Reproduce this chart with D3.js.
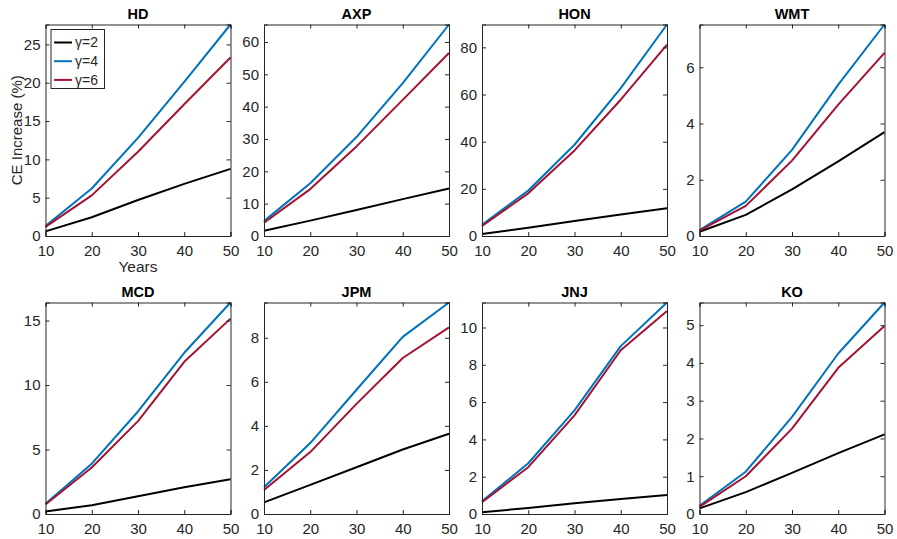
<!DOCTYPE html>
<html>
<head>
<meta charset="utf-8">
<script src="https://cdn.jsdelivr.net/npm/d3@7/dist/d3.min.js"></script>
<style>
  html, body { margin: 0; padding: 0; background: #fff; }
  svg { display: block; font-family: "Liberation Sans", Arial, Helvetica, sans-serif; }
</style>
</head>
<body>
<svg id="chart" width="897" height="539"></svg>
<script>
const years = [10, 20, 30, 40, 50];
const tickYears = [10, 20, 30, 40, 50];
const tickers = ["HD", "AXP", "HON", "WMT", "MCD", "JPM", "JNJ", "KO"];
const seriesNames = ["\u03B3=2", "\u03B3=4", "\u03B3=6"];
const seriesColors = ["#000000", "#0072BD", "#A2142F"];

// values per ticker, per series (gamma=2, gamma=4, gamma=6)
const gamma2 = [
  [0.6, 2.45, 4.7, 6.8, 8.76],    // HD
  [1.65, 4.75, 8.06, 11.4, 14.7], // AXP
  [0.85, 3.5, 6.4, 9.1, 11.8],    // HON
  [0.15, 0.75, 1.66, 2.65, 3.69], // WMT
  [0.2, 0.68, 1.38, 2.08, 2.7],   // MCD
  [0.53, 1.32, 2.12, 2.93, 3.64], // JPM
  [0.1, 0.32, 0.57, 0.8, 1.02],   // JNJ
  [0.15, 0.58, 1.09, 1.61, 2.11]  // KO
];
const gamma4 = [
  [1.3, 6.2, 12.8, 20.1, 27.6],
  [4.6, 16.3, 30.6, 47.3, 65.4],
  [4.7, 19.3, 38.7, 62.7, 89.7],
  [0.21, 1.22, 3.06, 5.38, 7.52],
  [0.8, 3.9, 7.95, 12.5, 16.4],
  [1.21, 3.22, 5.64, 8.04, 9.6],
  [0.68, 2.72, 5.56, 9.0, 11.34],
  [0.22, 1.12, 2.57, 4.25, 5.6]
];
const gamma6 = [
  [1.2, 5.3, 11.0, 17.2, 23.3],
  [4.1, 14.5, 27.7, 42.1, 56.6],
  [4.25, 18.1, 36.3, 57.8, 81.2],
  [0.19, 1.07, 2.68, 4.67, 6.51],
  [0.73, 3.6, 7.2, 11.8, 15.15],
  [1.09, 2.81, 5.0, 7.08, 8.47],
  [0.63, 2.51, 5.29, 8.78, 10.88],
  [0.19, 1.0, 2.26, 3.87, 4.98]
];
const yTickStep = [5, 10, 20, 2, 5, 2, 2, 1];

const svg = d3.select("#chart");
const ink = "#262626";
const colLeft = [45.5, 264, 482, 699.5];
const rowTop = [24.5, 302.5];
const pw = 185, ph = 211.5;
const fontTick = 15;

tickers.forEach((name, i) => {
  const col = i % 4, row = Math.floor(i / 4);
  const x0 = colLeft[col], y0 = rowTop[row];
  const all = [gamma2[i], gamma4[i], gamma6[i]];
  const ymax = d3.max(all.flat());
  const x = d3.scaleLinear().domain([10, 50]).range([0, pw]);
  const y = d3.scaleLinear().domain([0, ymax]).range([ph, 0]);
  const yt = d3.range(0, ymax + 1e-9, yTickStep[i]);

  const g = svg.append("g").attr("transform", `translate(${x0},${y0})`);

  const cid = "clip" + i;
  g.append("clipPath").attr("id", cid).append("rect")
    .attr("x", -1).attr("y", -1).attr("width", pw + 2).attr("height", ph + 2);

  const line = d3.line().x((d, k) => x(years[k])).y(d => y(d));
  [0, 1, 2].forEach(s => {
    g.append("path").datum(all[s])
      .attr("d", line)
      .attr("fill", "none")
      .attr("stroke", seriesColors[s])
      .attr("stroke-width", 2)
      .attr("stroke-linejoin", "round")
      .attr("clip-path", `url(#${cid})`);
  });

  const xb = g.append("g").attr("transform", `translate(0,${ph})`)
    .call(d3.axisBottom(x).tickValues(tickYears).tickSize(-4).tickPadding(9.5).tickFormat(d3.format("d")));
  const xt = g.append("g")
    .call(d3.axisTop(x).tickValues(tickYears).tickSize(-4).tickFormat(""));
  const yl = g.append("g")
    .call(d3.axisLeft(y).tickValues(yt).tickSize(-4).tickPadding(5).tickFormat(d3.format("d")));
  const yr = g.append("g").attr("transform", `translate(${pw},0)`)
    .call(d3.axisRight(y).tickValues(yt).tickSize(-4).tickFormat(""));
  [xb, xt, yl, yr].forEach(a => {
    a.select(".domain").attr("stroke", ink).attr("stroke-width", 1);
    a.selectAll(".tick line").attr("stroke", ink).attr("stroke-width", 1);
    a.selectAll(".tick text").attr("fill", ink).attr("font-size", fontTick)
      .attr("font-family", "'Liberation Sans', Arial, sans-serif");
  });
  xb.selectAll(".tick text").attr("dy", "0.71em");

  g.append("text").attr("x", pw / 2).attr("y", -5.5)
    .attr("text-anchor", "middle").attr("font-weight", "bold")
    .attr("font-size", 14.5).attr("fill", "#000").text(name);

  if (i === 0) {
    g.append("text").attr("x", pw / 2).attr("y", ph + 36)
      .attr("text-anchor", "middle").attr("font-size", 15.5).attr("fill", ink).text("Years");
    g.append("text")
      .attr("transform", `translate(-23.5,${ph / 2}) rotate(-90)`)
      .attr("text-anchor", "middle").attr("font-size", fontTick).attr("fill", ink)
      .text("CE Increase (%)");

    const lg = g.append("g").attr("transform", "translate(5.5,5)");
    lg.append("rect").attr("width", 53.5).attr("height", 59)
      .attr("fill", "#fff").attr("stroke", ink).attr("stroke-width", 1);
    seriesNames.forEach((s, k) => {
      const yy = 13 + k * 18.7;
      lg.append("line").attr("x1", 3).attr("x2", 21).attr("y1", yy).attr("y2", yy)
        .attr("stroke", seriesColors[k]).attr("stroke-width", 2);
      lg.append("text").attr("x", 24).attr("y", yy).attr("dy", "0.35em")
        .attr("font-size", 14).attr("fill", ink).text(s);
    });
  }
});
</script>
</body>
</html>
